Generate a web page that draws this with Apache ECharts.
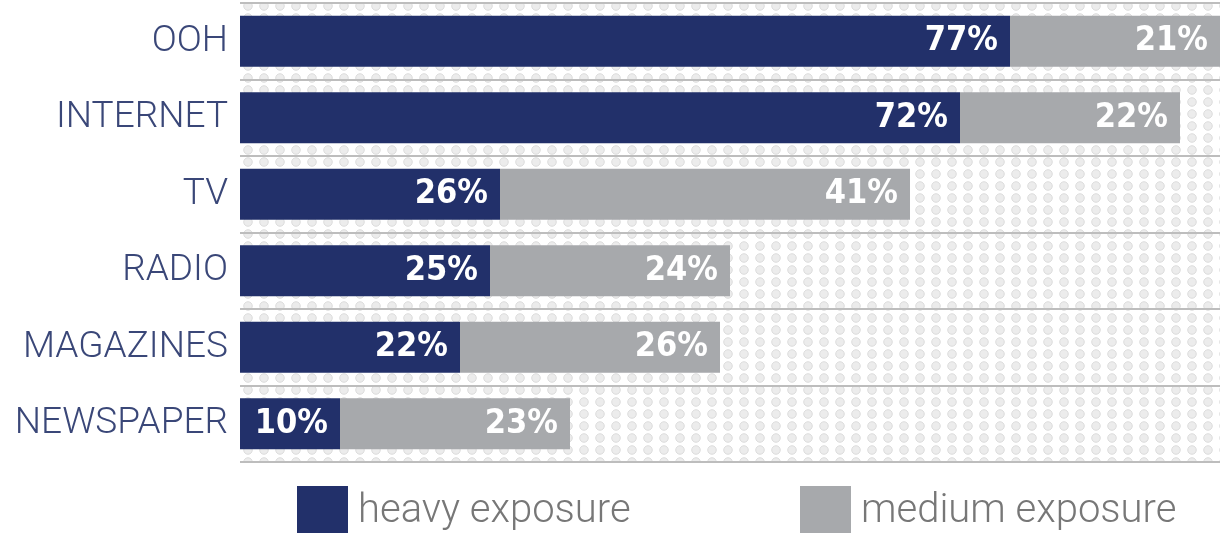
<!DOCTYPE html>
<html><head><meta charset="utf-8">
<style>html,body{margin:0;padding:0;background:#fff}#c{width:1223px;height:533px}</style>
<script src="https://cdn.jsdelivr.net/npm/echarts@6/dist/echarts.min.js"></script>
</head><body><div id="c"></div>
<script>
const categories = ['OOH','INTERNET','TV','RADIO','MAGAZINES','NEWSPAPER'];
const heavy = [77,72,26,25,22,10];
const medium = [21,22,41,24,26,23];
const seriesNames = ['heavy exposure','medium exposure'];

const pc = document.createElement('canvas');
pc.width = 16; pc.height = 12;
const g = pc.getContext('2d');
g.fillStyle = '#ffffff'; g.fillRect(0,0,16,12);
g.beginPath(); g.ellipse(8,6,4.3,4.3,0,0,Math.PI*2);
g.fillStyle = '#ececec'; g.fill();
g.strokeStyle = '#d6d6d6'; g.lineWidth = 0.8; g.stroke();

const chart = echarts.init(document.getElementById('c'));
const lbl = {show:true, position:'insideRight', distance:12, color:'#fff',
  fontFamily:'"DejaVu Sans Condensed", "Liberation Sans Narrow", Roboto, sans-serif', fontWeight:'bold', fontSize:34, formatter:'{c}%'};
const legText = {fontFamily:'Roboto', fontWeight:300, fontSize:40, color:'#777', padding:[0,0,0,5]};
chart.setOption({
  animation:false,
  grid:{left:240, right:3, top:3, bottom:71, show:true, borderWidth:0,
    backgroundColor:{image:pc, repeat:'repeat'}},
  xAxis:{type:'value', min:0, max:98, show:false},
  yAxis:{type:'category', data:categories, inverse:true,
    axisLine:{show:false}, axisTick:{show:false},
    axisLabel:{margin:12, color:'#3a4778', fontFamily:'Roboto', fontWeight:300, fontSize:37},
    splitLine:{show:true, lineStyle:{color:'#bdbdbd', width:2}}},
  legend:[
    {data:[seriesNames[0]], left:297, top:486, padding:0, itemWidth:51, itemHeight:52, icon:'rect', itemGap:10, textStyle:legText},
    {data:[seriesNames[1]], left:800, top:486, padding:0, itemWidth:51, itemHeight:52, icon:'rect', itemGap:10, textStyle:legText}
  ],
  series:[
    {name:seriesNames[0], type:'bar', stack:'a', data:heavy, barWidth:51, itemStyle:{color:'#22306a'}, label:lbl},
    {name:seriesNames[1], type:'bar', stack:'a', data:medium, barWidth:51, itemStyle:{color:'#a7a9ac'}, label:lbl}
  ]
});
</script></body></html>
